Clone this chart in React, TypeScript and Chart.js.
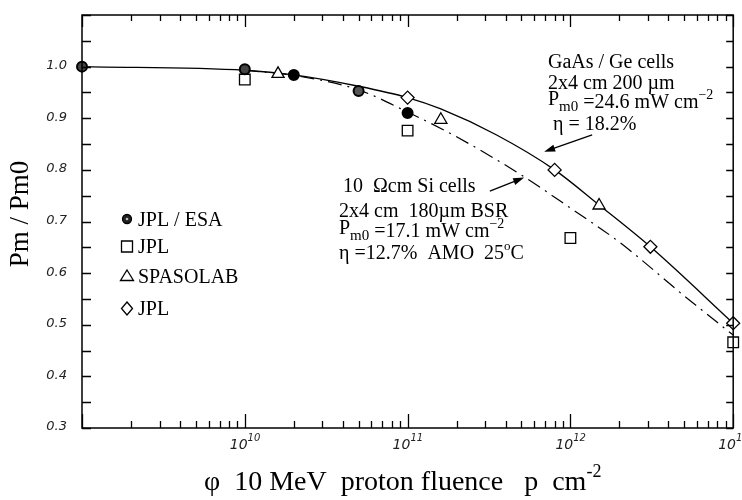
import React, { useEffect, useRef } from 'react';
import { Chart, registerables } from 'chart.js';
Chart.register(...registerables);

// ---- data ----
const jplEsaX = [1e9, 1e10, 2e10, 5e10, 1e11];
const jplEsaY = [1.0, 0.995, 0.984, 0.953, 0.91];
const jplSqX = [1e10, 1e11, 1e12, 1e13];
const jplSqY = [0.975, 0.876, 0.668, 0.466];
const spasoX = [1.6e10, 1.6e11, 1.5e12];
const spasoY = [0.986, 0.897, 0.731];
const jplDiaX = [1e11, 8e11, 3.1e12, 1e13];
const jplDiaY = [0.94, 0.8, 0.651, 0.503];
const gaasX = [1e9, 1e10, 2e10, 5e10, 1e11, 1.6e11, 3.5e11, 8e11, 1.5e12, 3.1e12, 1e13];
const gaasY = [1.0, 0.993, 0.984, 0.962, 0.94, 0.918, 0.868, 0.8, 0.732, 0.651, 0.503];
const siX = [1e10, 2e10, 5e10, 1e11, 2e11, 5e11, 1e12, 2e12, 5e12, 1e13];
const siY = [0.993, 0.983, 0.955, 0.912, 0.864, 0.79, 0.726, 0.66, 0.556, 0.48];

const yTickLabels = ['0.3', '0.4', '0.5', '0.6', '0.7', '0.8', '0.9', '1.0'];
const xDecades = [9, 10, 11, 12, 13];
const xLabelDecades = [10, 11, 12, 13];
const legendLabels = ['JPL / ESA', 'JPL', 'SPASOLAB', 'JPL'];

// arrows in data coordinates [x1, y1, x2, y2]
const gaasArrow = [1.36e12, 0.868, 6.9e11, 0.835];
const siArrow = [3.2e11, 0.759, 5.2e11, 0.785];

const pts = (xs: number[], ys: number[]) => xs.map((x, i) => ({ x, y: ys[i] }));

type Seg = { t: string; size?: number; dy?: number };
const SERIF = '"Liberation Serif", "Times New Roman", serif';

function drawRich(ctx: CanvasRenderingContext2D, segs: Seg[], x: number, y: number, base: number, family = SERIF, style = '') {
  let cx = x;
  for (const s of segs) {
    const fs = s.size ?? base;
    ctx.font = `${style}${fs}px ${family}`;
    ctx.fillText(s.t, cx, y + (s.dy ?? 0));
    cx += ctx.measureText(s.t).width;
  }
  return cx - x;
}

function arrow(ctx: CanvasRenderingContext2D, x1: number, y1: number, x2: number, y2: number) {
  const a = Math.atan2(y2 - y1, x2 - x1);
  const L = 11, W = 3.5;
  ctx.beginPath();
  ctx.moveTo(x1, y1);
  ctx.lineTo(x2 - Math.cos(a) * L * 0.7, y2 - Math.sin(a) * L * 0.7);
  ctx.lineWidth = 1.3;
  ctx.stroke();
  ctx.beginPath();
  ctx.moveTo(x2, y2);
  ctx.lineTo(x2 - Math.cos(a) * L - Math.sin(a) * W, y2 - Math.sin(a) * L + Math.cos(a) * W);
  ctx.lineTo(x2 - Math.cos(a) * L + Math.sin(a) * W, y2 - Math.sin(a) * L - Math.cos(a) * W);
  ctx.closePath();
  ctx.fill();
}

function marker(ctx: CanvasRenderingContext2D, kind: string, x: number, y: number) {
  ctx.lineWidth = 1.3;
  ctx.strokeStyle = '#000';
  ctx.beginPath();
  if (kind === 'circle') {
    ctx.arc(x, y, 4.5, 0, Math.PI * 2);
    ctx.fillStyle = '#222';
    ctx.fill();
    ctx.stroke();
    ctx.beginPath();
    ctx.arc(x, y, 1.3, 0, Math.PI * 2);
    ctx.fillStyle = '#bbb';
    ctx.fill();
    return;
  }
  if (kind === 'rect') ctx.rect(x - 5.5, y - 5.5, 11, 11);
  if (kind === 'triangle') {
    ctx.moveTo(x, y - 6);
    ctx.lineTo(x + 6.5, y + 4.5);
    ctx.lineTo(x - 6.5, y + 4.5);
    ctx.closePath();
  }
  if (kind === 'rectRot') {
    ctx.moveTo(x, y - 6.5);
    ctx.lineTo(x + 5.5, y);
    ctx.lineTo(x, y + 6.5);
    ctx.lineTo(x - 5.5, y);
    ctx.closePath();
  }
  ctx.fillStyle = '#fff';
  ctx.fill();
  ctx.stroke();
}

const decorPlugin = {
  id: 'decor',
  afterDraw(chart: any) {
    const ctx: CanvasRenderingContext2D = chart.ctx;
    const xs = chart.scales.x;
    const ys = chart.scales.y;
    const { left, right, top, bottom } = chart.chartArea;
    ctx.save();
    ctx.strokeStyle = '#000';
    ctx.fillStyle = '#000';
    // frame
    ctx.lineWidth = 1.5;
    ctx.strokeRect(left, top, right - left, bottom - top);
    // y ticks every 0.05
    ctx.lineWidth = 1.3;
    for (let i = 0; i <= 16; i++) {
      const v = 0.3 + i * 0.05;
      const py = Math.round(ys.getPixelForValue(v)) + 0.5;
      ctx.beginPath();
      ctx.moveTo(left, py); ctx.lineTo(left + 9, py);
      ctx.moveTo(right, py); ctx.lineTo(right - 7, py);
      ctx.stroke();
    }
    // x ticks
    for (const e of xDecades) {
      for (let m = 1; m <= 9; m++) {
        if (e === 13 && m > 1) break;
        const px = Math.round(xs.getPixelForValue(m * Math.pow(10, e))) + 0.5;
        const major = m === 1;
        ctx.beginPath();
        ctx.moveTo(px, bottom); ctx.lineTo(px, bottom - (major ? 14 : 7));
        ctx.moveTo(px, top); ctx.lineTo(px, top + (major ? 12 : 6));
        ctx.stroke();
      }
    }
    // y tick labels
    ctx.fillStyle = '#222';
    ctx.font = 'italic 13px "DejaVu Sans", sans-serif';
    ctx.textAlign = 'right';
    ctx.textBaseline = 'middle';
    yTickLabels.forEach((t) => {
      const py = ys.getPixelForValue(parseFloat(t));
      ctx.fillText(t, 67, py - 1);
    });
    // x tick labels
    ctx.textAlign = 'left';
    ctx.textBaseline = 'alphabetic';
    for (const e of xLabelDecades) {
      const px = xs.getPixelForValue(Math.pow(10, e));
      drawRich(ctx, [{ t: '10' }, { t: String(e), size: 10, dy: -8 }], px - 15, 449, 14, '"DejaVu Sans", sans-serif', 'italic ');
    }
    ctx.fillStyle = '#000';
    // x title
    drawRich(ctx, [
      { t: '\u03C6  10 MeV  proton fluence   p  cm' },
      { t: '-2', size: 18, dy: -13 },
    ], 204, 490, 28);
    // y title
    ctx.save();
    ctx.translate(28, 214);
    ctx.rotate(-Math.PI / 2);
    ctx.textAlign = 'center';
    ctx.font = `27px ${SERIF}`;
    ctx.fillText('Pm / Pm0', 0, 0);
    ctx.restore();
    ctx.textAlign = 'left';

    // legend
    const kinds = ['circle', 'rect', 'triangle', 'rectRot'];
    const rowsY = [219, 246.5, 276, 308.5];
    kinds.forEach((k, i) => {
      marker(ctx, k, 127, rowsY[i]);
      ctx.fillStyle = '#000';
      ctx.font = `20px ${SERIF}`;
      ctx.fillText(legendLabels[i], 138, rowsY[i] + 6.5);
    });

    // GaAs annotation
    ctx.fillStyle = '#000';
    drawRich(ctx, [{ t: 'GaAs / Ge cells' }], 548, 68, 20);
    drawRich(ctx, [{ t: '2x4 cm 200 \u00B5m' }], 548, 89, 20);
    drawRich(ctx, [
      { t: 'P', dy: -3 },
      { t: 'm0', size: 15, dy: 3 },
      { t: ' =24.6 mW cm' },
      { t: '\u22122', size: 14, dy: -9 },
    ], 548, 108, 20);
    drawRich(ctx, [{ t: ' \u03B7 = 18.2%' }], 548, 130, 20);

    // Si annotation
    drawRich(ctx, [{ t: '10  \u03A9cm Si cells' }], 343, 192, 20);
    drawRich(ctx, [{ t: '2x4 cm  180\u00B5m BSR' }], 339, 217, 20);
    drawRich(ctx, [
      { t: 'P', dy: -3 },
      { t: 'm0', size: 15, dy: 3 },
      { t: ' =17.1 mW cm' },
      { t: '\u22122', size: 14, dy: -9 },
    ], 339, 237, 20);
    drawRich(ctx, [
      { t: '\u03B7 =12.7%  AMO  25' },
      { t: 'o', size: 13, dy: -9 },
      { t: 'C' },
    ], 339, 259, 20);

    // arrows
    ctx.strokeStyle = '#000';
    ctx.fillStyle = '#000';
    const a1 = gaasArrow, a2 = siArrow;
    arrow(ctx, xs.getPixelForValue(a1[0]), ys.getPixelForValue(a1[1]), xs.getPixelForValue(a1[2]), ys.getPixelForValue(a1[3]));
    arrow(ctx, xs.getPixelForValue(a2[0]), ys.getPixelForValue(a2[1]), xs.getPixelForValue(a2[2]), ys.getPixelForValue(a2[3]));
    ctx.restore();
  },
};

export default function App() {
  const ref = useRef<HTMLCanvasElement | null>(null);
  useEffect(() => {
    if (!ref.current) return;
    const pointBase = { showLine: false, borderColor: '#000', borderWidth: 1.3, clip: false as any };
    const chart = new Chart(ref.current, {
      type: 'scatter',
      data: {
        datasets: [
          {
            ...pointBase,
            label: 'JPL / ESA',
            data: pts(jplEsaX, jplEsaY),
            pointStyle: 'circle',
            pointRadius: 5,
            borderWidth: 2,
            pointBackgroundColor: ['#444', '#444', '#000', '#555', '#000'],
          },
          { ...pointBase, label: 'JPL', data: pts(jplSqX, jplSqY), pointStyle: 'rect', pointRadius: 7.5, pointBackgroundColor: '#fff' },
          { ...pointBase, label: 'SPASOLAB', data: pts(spasoX, spasoY), pointStyle: 'triangle', pointRadius: 7, pointBackgroundColor: '#fff' },
          { ...pointBase, label: 'JPL ', data: pts(jplDiaX, jplDiaY), pointStyle: 'rectRot', pointRadius: 6.5, pointBackgroundColor: '#fff' },
          {
            label: 'GaAs / Ge',
            data: pts(gaasX, gaasY),
            showLine: true,
            pointRadius: 0,
            borderColor: '#000',
            borderWidth: 1.3,
            cubicInterpolationMode: 'monotone',
            clip: false as any,
          },
          {
            label: 'Si',
            data: pts(siX, siY),
            showLine: true,
            pointRadius: 0,
            borderColor: '#000',
            borderWidth: 1.2,
            borderDash: [14, 6, 2, 6],
            cubicInterpolationMode: 'monotone',
            clip: false as any,
          },
        ],
      },
      options: {
        animation: false,
        responsive: false,
        maintainAspectRatio: false,
        layout: { padding: { left: 82, top: 15, right: 5, bottom: 72 } },
        plugins: { legend: { display: false }, tooltip: { enabled: false } },
        scales: {
          x: { type: 'logarithmic', min: 1e9, max: 1e13, display: false },
          y: { type: 'linear', min: 0.3, max: 1.1, display: false },
        },
      },
      plugins: [decorPlugin],
    });
    return () => chart.destroy();
  }, []);
  return (
    <div style={{ position: 'absolute', left: 0, top: 0, width: 742, height: 500, background: '#fff' }}>
      <canvas ref={ref} width={742} height={500} style={{ display: 'block' }} />
    </div>
  );
}
